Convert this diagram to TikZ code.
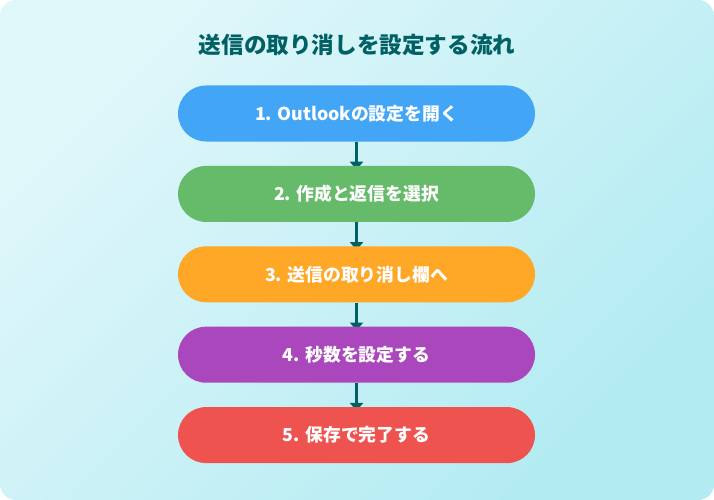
\documentclass[tikz,border=0pt]{standalone}
\usepackage{fontspec}
\setmainfont{Noto Sans CJK JP}
\usetikzlibrary{positioning,arrows.meta,backgrounds}

\definecolor{bglight}{HTML}{E0F7FA}
\definecolor{bgdark}{HTML}{B2EBF2}
\definecolor{flowteal}{HTML}{006064}
\definecolor{stepblue}{HTML}{42A5F5}
\definecolor{stepgreen}{HTML}{66BB6A}
\definecolor{steporange}{HTML}{FFA726}
\definecolor{steppurple}{HTML}{AB47BC}
\definecolor{stepred}{HTML}{EF5350}

\tikzset{
  stepbox/.style={rectangle, rounded corners=28pt, minimum width=357pt,
    minimum height=56pt, text=white, font=\bfseries\fontsize{17.8}{21}\selectfont},
  flow/.style={draw=flowteal, line width=2.6pt, -{Triangle[width=13pt,length=8pt]}}
}

\begin{document}
\begin{tikzpicture}[x=1pt, y=1pt, node distance=24pt]
  \node [text=flowteal, font=\bfseries\fontsize{22.6}{27}\selectfont] (title) at (357,-45) {送信の取り消しを設定する流れ};

  \node [stepbox, fill=stepblue] (s1) at (356.5,-113.5) {1. Outlookの設定を開く};
  \node [stepbox, fill=stepgreen, below=of s1] (s2) {2. 作成と返信を選択};
  \node [stepbox, fill=steporange, below=of s2] (s3) {3. 送信の取り消し欄へ};
  \node [stepbox, fill=steppurple, below=of s3] (s4) {4. 秒数を設定する};
  \node [stepbox, fill=stepred, below=of s4] (s5) {5. 保存で完了する};

  \begin{scope}[on background layer]
    \shade [left color=bglight, right color=bgdark, shading angle=45, rounded corners=16pt]
      (0,0) rectangle (714,-500);
    \foreach \a/\b in {s1/s2, s2/s3, s3/s4, s4/s5}
      \draw [flow] (\a.south) -- ([yshift=-4pt]\b.north);
  \end{scope}
\end{tikzpicture}
\end{document}
